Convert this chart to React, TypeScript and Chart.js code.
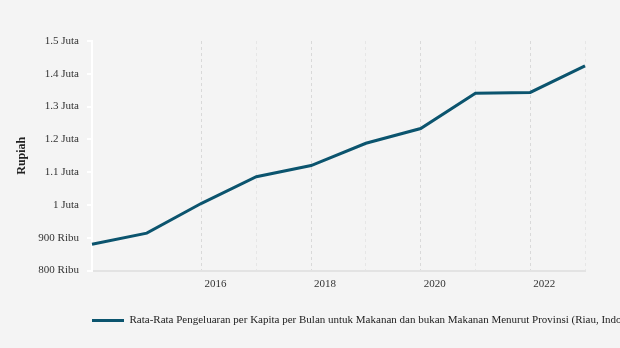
import React, { useEffect, useRef } from "react";
import { Chart, registerables } from "chart.js";

Chart.register(...registerables);

const years = ["2014", "2015", "2016", "2017", "2018", "2019", "2020", "2021", "2022", "2023"];
const spending = [880000, 914000, 1005000, 1086000, 1120000, 1188000, 1233000, 1341000, 1343000, 1424000];
const labeledYears = ["2016", "2018", "2020", "2022"];
const minorYears = ["2017", "2019", "2021", "2023"];
const seriesLabel =
  "Rata-Rata Pengeluaran per Kapita per Bulan untuk Makanan dan bukan Makanan Menurut Provinsi (Riau, Indonesia)";
const yAxisTitle = "Rupiah";

const FONT = "'Liberation Serif', 'Times New Roman', serif";
const LINE_COLOR = "#0b546e";

function formatRupiah(v: number): string {
  if (v >= 1000000) {
    const j = Math.round((v / 1000000) * 10) / 10;
    return `${j} Juta`;
  }
  return `${Math.round(v / 1000)} Ribu`;
}

export default function App() {
  const ref = useRef<HTMLCanvasElement | null>(null);

  useEffect(() => {
    if (!ref.current) return;
    const legendShift = {
      id: "legendShift",
      afterLayout(chart: any) {
        const lg = chart.legend;
        if (lg) {
          const w = lg.width;
          lg.left = 82;
          lg.right = 82 + w;
        }
      },
    };
    const chart = new Chart(ref.current, {
      type: "line",
      data: {
        labels: years,
        datasets: [
          {
            label: seriesLabel,
            data: spending,
            borderColor: LINE_COLOR,
            backgroundColor: LINE_COLOR,
            borderWidth: 3,
            pointRadius: 0,
            fill: false,
            tension: 0,
          },
        ],
      },
      options: {
        responsive: false,
        animation: false,
        layout: { padding: { left: 11, right: 35, top: 41, bottom: 12 } },
        plugins: {
          tooltip: { enabled: false },
          legend: {
            position: "bottom",
            align: "start",
            labels: {
              boxWidth: 32,
              boxHeight: 3,
              padding: 10,
              color: "#222",
              font: { family: FONT, size: 11 },
              generateLabels: (c: any) =>
                Chart.defaults.plugins.legend.labels
                  .generateLabels(c)
                  .map((l: any) => ({ ...l, lineWidth: 0, fillStyle: LINE_COLOR })),
            },
          },
        },
        scales: {
          x: {
            grid: {
              drawTicks: false,
              lineWidth: 1,
              color: (ctx: any) => {
                const y = years[ctx.index];
                if (labeledYears.includes(y)) return "#d9d9d9";
                if (minorYears.includes(y)) return "#e6e6e6";
                return "rgba(0,0,0,0)";
              },
            },
            border: { display: true, color: "#e3e3e3", width: 2, dash: [3, 3] },
            ticks: {
              autoSkip: false,
              maxRotation: 0,
              padding: 7,
              labelOffset: 14,
              color: "#333",
              font: { family: FONT, size: 11 },
              callback: (_v: any, i: number) => (labeledYears.includes(years[i]) ? years[i] : ""),
            },
            afterFit: (s: any) => {
              s.height = 34.5;
            },
          },
          y: {
            min: 800000,
            max: 1500000,
            grid: {
              drawOnChartArea: false,
              drawTicks: true,
              tickLength: 5,
              lineWidth: 2,
              color: "#ffffff",
            },
            border: { display: true, color: "#ffffff", width: 2 },
            ticks: {
              stepSize: 100000,
              padding: 8,
              color: "#333",
              font: { family: FONT, size: 11 },
              callback: (v: any) => formatRupiah(Number(v)),
            },
            title: {
              display: true,
              text: yAxisTitle,
              color: "#222",
              padding: { top: 4, bottom: 4 },
              font: { family: FONT, size: 12, weight: "bold" },
            },
            afterFit: (s: any) => {
              s.width = 81;
            },
          },
        },
      },
      plugins: [legendShift],
    } as any);
    return () => chart.destroy();
  }, []);

  return (
    <div
      style={{
        position: "absolute",
        left: 0,
        top: 0,
        width: 620,
        height: 348,
        background: "#f4f4f4",
        overflow: "hidden",
      }}
    >
      <canvas ref={ref} width={620} height={348} style={{ display: "block" }} />
    </div>
  );
}
